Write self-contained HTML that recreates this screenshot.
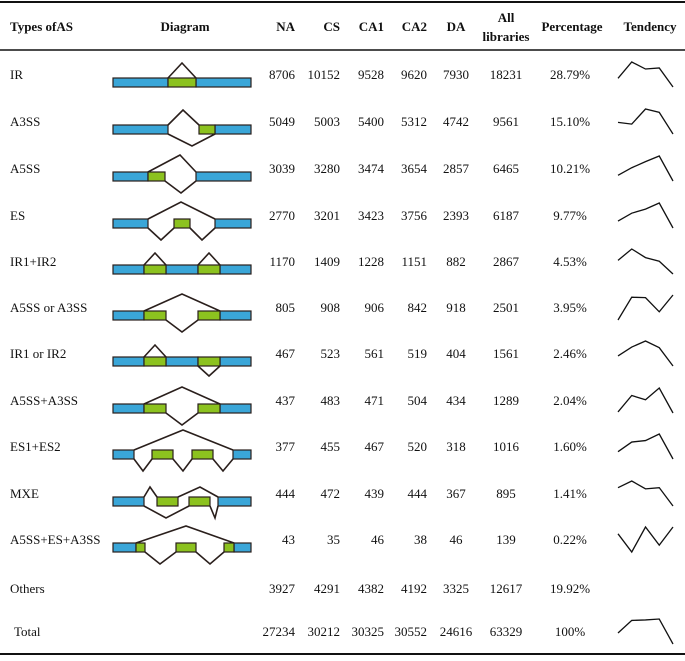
<!DOCTYPE html>
<html><head><meta charset="utf-8"><style>
body{margin:0;background:#fff;width:685px;height:656px;overflow:hidden;font-family:"Liberation Serif",serif;}
svg text{font-family:"Liberation Serif",serif;font-size:13px;fill:#111;}
.h{font-weight:bold;}
</style></head><body>
<svg id="t" width="685" height="656">
<line x1="0" y1="2" x2="685" y2="2" stroke="#111" stroke-width="2"/>
<line x1="0" y1="50" x2="685" y2="50" stroke="#111" stroke-width="1.5"/>
<line x1="0" y1="654" x2="685" y2="654" stroke="#111" stroke-width="2"/>
<g class="h">
<text class="h" x="10" y="31">Types ofAS</text>
<text class="h" x="185" y="31" text-anchor="middle">Diagram</text>
<text class="h" x="295" y="31" text-anchor="end">NA</text>
<text class="h" x="340" y="31" text-anchor="end">CS</text>
<text class="h" x="384" y="31" text-anchor="end">CA1</text>
<text class="h" x="427" y="31" text-anchor="end">CA2</text>
<text class="h" x="456" y="31" text-anchor="middle">DA</text>
<text class="h" x="506" y="22" text-anchor="middle">All</text>
<text class="h" x="506" y="41" text-anchor="middle">libraries</text>
<text class="h" x="572" y="31" text-anchor="middle">Percentage</text>
<text class="h" x="650" y="31" text-anchor="middle">Tendency</text>
</g>
</svg>
<script>
const types=["IR","A3SS","A5SS","ES","IR1+IR2","A5SS or A3SS","IR1 or IR2","A5SS+A3SS","ES1+ES2","MXE","A5SS+ES+A3SS","Others","Total"];
const na=[8706,5049,3039,2770,1170,805,467,437,377,444,43,3927,27234];
const cs=[10152,5003,3280,3201,1409,908,523,483,455,472,35,4291,30212];
const ca1=[9528,5400,3474,3423,1228,906,561,471,467,439,46,4382,30325];
const ca2=[9620,5312,3654,3756,1151,842,519,504,520,444,38,4192,30552];
const da=[7930,4742,2857,2393,882,918,404,434,318,367,46,3325,24616];
const allLib=[18231,9561,6465,6187,2867,2501,1561,1289,1016,895,139,12617,63329];
const pct=["28.79%","15.10%","10.21%","9.77%","4.53%","3.95%","2.46%","2.04%","1.60%","1.41%","0.22%","19.92%","100%"];
const rowY=[75,122,169,216,262,308,354,401,447,494,540,589,632];
const diag=[
 {b:[[113,168],[196,251]],g:[[168,196]],u:[[168,182,196,15]],d:[]},
 {b:[[113,168],[215,251]],g:[[199,215]],u:[[168,183,199,15]],d:[[168,192,215,12]]},
 {b:[[113,148],[196,251]],g:[[148,165]],u:[[148,180,196,17]],d:[[165,181,196,12]]},
 {b:[[113,148],[215,251]],g:[[174,190]],u:[[148,181,215,17]],d:[[148,161,174,12],[190,202,215,12]]},
 {b:[[113,144],[166,198],[220,251]],g:[[144,166],[198,220]],u:[[144,155,166,12],[198,209,220,12]],d:[]},
 {b:[[113,144],[220,251]],g:[[144,166],[198,220]],u:[[144,182,220,17]],d:[[166,182,198,12]]},
 {b:[[113,144],[166,198],[220,251]],g:[[144,166],[198,220]],u:[[144,155,166,12]],d:[[198,209,220,10]]},
 {b:[[113,144],[220,251]],g:[[144,166],[198,220]],u:[[144,182,220,17]],d:[[166,182,198,12]]},
 {b:[[113,134],[233,251]],g:[[152,173],[192,213]],u:[[134,183,233,20]],d:[[134,143,152,12],[173,183,192,12],[213,223,233,12]]},
 {b:[[113,144],[218,251]],g:[[157,178],[189,210]],u:[[144,150,157,10],[178,200,218,10]],d:[[144,166,189,12],[210,215,218,12]]},
 {b:[[113,136],[234,251]],g:[[136,145],[176,196],[224,234]],u:[[136,186,234,17]],d:[[145,160,176,12],[196,210,224,12]]}
];
const svg=document.getElementById('t');
const NS="http://www.w3.org/2000/svg";
function mk(tag,attrs){const e=document.createElementNS(NS,tag);for(const k in attrs)e.setAttribute(k,attrs[k]);svg.appendChild(e);return e;}
function txt(x,y,s,anchor){const e=mk('text',{x:x,y:y,'text-anchor':anchor});e.textContent=s;return e;}
const cols=[[na,295,'na','end'],[cs,340,'cs','end'],[ca1,384,'ca1','end'],[ca2,427,'ca2','end'],[da,456,'da','middle']];
const sx=i=>618+i*13.75;
types.forEach((t,r)=>{
 const c=rowY[r];
 let e=txt(r===12?14:10,c+4,t,'start');
 
 
 cols.forEach(([arr,x,n,a])=>{
  const v=txt(x,c+4,String(arr[r]),a);
  
  
 });
 e=txt(506,c+4,String(allLib[r]),'middle');
 
 
 e=txt(570,c+4,pct[r],'middle');
 
 
 if(r!==11){
  const vals=[na[r],cs[r],ca1[r],ca2[r],da[r]];
  const mn=Math.min(...vals),mx=Math.max(...vals);
  const sy=v=>(c+12)-(v-mn)/((mx-mn)||1)*25;
  const p=mk('polyline',{points:vals.map((v,i)=>sx(i)+','+sy(v)).join(' '),fill:'none',stroke:'#111','stroke-width':1.3});
  
  
 }
 const d=diag[r];
 if(d){
  const top=c+3,bot=c+12;
  d.u.forEach(([a,m,b,h])=>{const l=mk('polyline',{points:`${a},${top} ${m},${top-h} ${b},${top}`,fill:'none',stroke:'#2a1f1c','stroke-width':1.6});
   });
  d.d.forEach(([a,m,b,h])=>{const l=mk('polyline',{points:`${a},${bot} ${m},${bot+h} ${b},${bot}`,fill:'none',stroke:'#2a1f1c','stroke-width':1.6});
   });
  d.b.forEach(([a,b])=>{const q=mk('rect',{x:a,y:top,width:b-a,height:9,fill:'#3aa6d8',stroke:'#2a1f1c','stroke-width':1.2});
   });
  d.g.forEach(([a,b])=>{const q=mk('rect',{x:a,y:top,width:b-a,height:9,fill:'#8cc21f',stroke:'#2a1f1c','stroke-width':1.2});
   });
 }
});
</script>
</body></html>
